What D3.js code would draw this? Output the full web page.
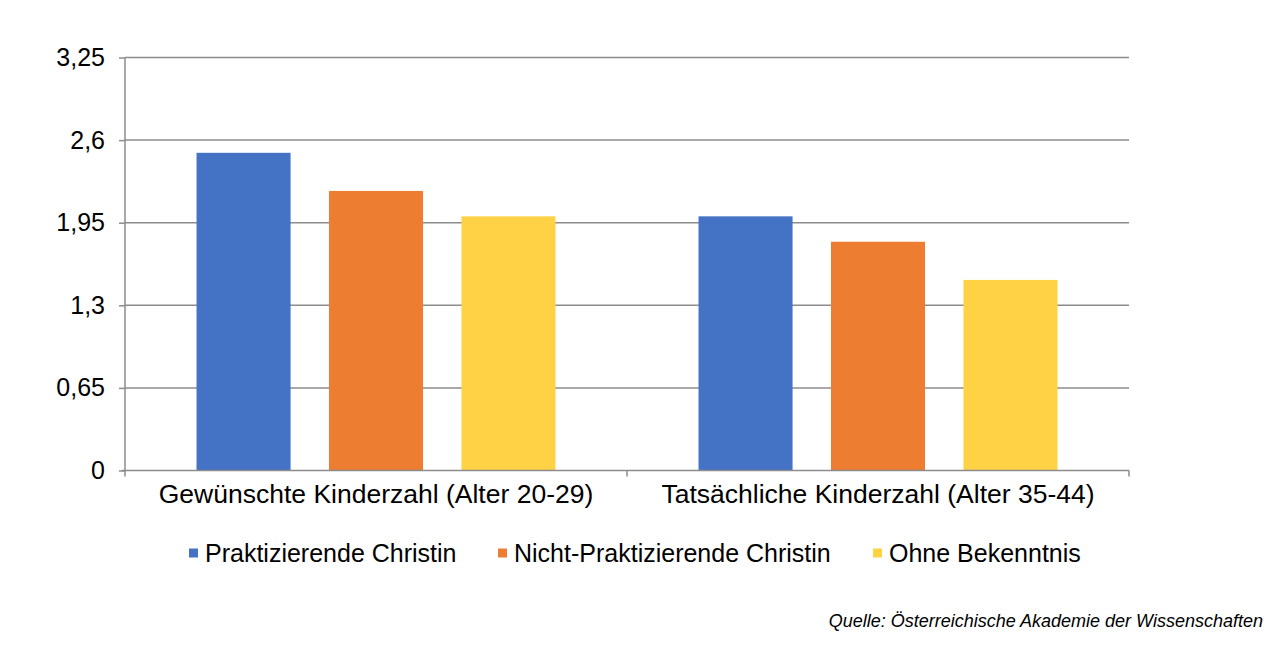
<!DOCTYPE html>
<html>
<head>
<meta charset="utf-8">
<script src="https://cdn.jsdelivr.net/npm/d3@7"></script>
<style>
	body { margin: 0; background: #fff; }
	text { font-family: "Liberation Sans", Arial, Helvetica, sans-serif; fill: #000; }
</style>
</head>
<body>
<script>
// Grouped bar chart: Kinderzahl by religion
const width = 1280;
const height = 651;
const margin = {top: 57.5, right: 151, bottom: 180.5, left: 125};

const categories = ['Gewünschte Kinderzahl (Alter 20-29)', 'Tatsächliche Kinderzahl (Alter 35-44)'];
const seriesNames = ['Praktizierende Christin', 'Nicht-Praktizierende Christin', 'Ohne Bekenntnis'];
const praktizierend = [2.5, 2.0];
const nichtPraktizierend = [2.2, 1.8];
const ohneBekenntnis = [2.0, 1.5];
const yTicks = [0, 0.65, 1.3, 1.95, 2.6, 3.25];
const colors = ['#4472C4', '#ED7D31', '#FFD145'];

const seriesValues = [praktizierend, nichtPraktizierend, ohneBekenntnis];

const svg = d3.select('body')
	.append('svg')
	.attr('width', width)
	.attr('height', height);

let x0 = d3.scaleBand()
	.domain(categories)
	.range([margin.left, width - margin.right])
	.padding(0);

let x1 = d3.scaleBand()
	.domain(seriesNames)
	.range([0, x0.bandwidth()])
	.paddingInner(0.29)
	.paddingOuter(0.54);

let y = d3.scaleLinear()
	.domain([0, 3.25])
	.range([height - margin.bottom, margin.top]);

// Gridlines
svg.append('g')
	.selectAll('line')
	.data(yTicks.filter(d => d > 0))
	.join('line')
	.attr('x1', margin.left)
	.attr('x2', width - margin.right)
	.attr('y1', d => y(d))
	.attr('y2', d => y(d))
	.attr('stroke', '#8c8c8c')
	.attr('stroke-width', 1.5);

// Y-axis
let yAxis = svg.append('g')
	.attr('transform', `translate(${margin.left}, 0)`)
	.call(d3.axisLeft(y)
		.tickValues(yTicks)
		.tickSize(6)
		.tickPadding(14)
		.tickFormat(d => String(d).replace('.', ',')));
yAxis.select('.domain').attr('stroke', '#8c8c8c').attr('stroke-width', 1.5).attr('d', `M0,${y(0)}V${y(3.25)}`);
yAxis.selectAll('.tick line').attr('stroke', '#8c8c8c').attr('stroke-width', 1.5);
yAxis.selectAll('.tick text')
	.style('font-family', '"Liberation Sans", Arial, sans-serif')
	.style('font-size', '25px')
	.attr('fill', '#000');

// Bars
let groups = svg.append('g')
	.selectAll('g')
	.data(categories)
	.join('g')
	.attr('transform', d => `translate(${x0(d)}, 0)`);

groups.selectAll('rect')
	.data((d, i) => seriesNames.map((s, j) => ({series: s, value: seriesValues[j][i], color: colors[j]})))
	.join('rect')
	.attr('x', d => x1(d.series))
	.attr('width', x1.bandwidth())
	.attr('y', d => y(d.value))
	.attr('height', d => y(0) - y(d.value))
	.attr('fill', d => d.color);

// X-axis
let xAxis = svg.append('g')
	.attr('transform', `translate(0, ${y(0)})`)
	.call(d3.axisBottom(x0).tickSize(0).tickPadding(14));
xAxis.select('.domain').attr('stroke', '#8c8c8c').attr('stroke-width', 1.5)
	.attr('d', `M${margin.left - 3},0H${width - margin.right}`);
xAxis.selectAll('.tick text')
	.style('font-family', '"Liberation Sans", Arial, sans-serif')
	.style('font-size', '26.5px')
	.attr('fill', '#000');

// category separators
svg.append('g')
	.selectAll('line')
	.data([margin.left, ...categories.map(c => x0(c) + x0.bandwidth())])
	.join('line')
	.attr('x1', d => d)
	.attr('x2', d => d)
	.attr('y1', y(0))
	.attr('y2', y(0) + 6)
	.attr('stroke', '#8c8c8c')
	.attr('stroke-width', 1.5);

// Legend
const legendX = [189, 498, 873];
let legend = svg.append('g')
	.selectAll('g')
	.data(seriesNames)
	.join('g')
	.attr('transform', (d, i) => `translate(${legendX[i]}, 553)`);
legend.append('rect')
	.attr('x', 0).attr('y', -4.5)
	.attr('width', 9).attr('height', 9)
	.attr('fill', (d, i) => colors[i]);
legend.append('text')
	.attr('x', 16)
	.attr('dy', '0.35em')
	.style('font-size', '25px')
	.text(d => d);

// Source
svg.append('text')
	.attr('x', 1263)
	.attr('y', 627)
	.attr('text-anchor', 'end')
	.style('font-size', '18px')
	.style('font-style', 'italic')
	.text('Quelle: Österreichische Akademie der Wissenschaften');
</script>
</body>
</html>
